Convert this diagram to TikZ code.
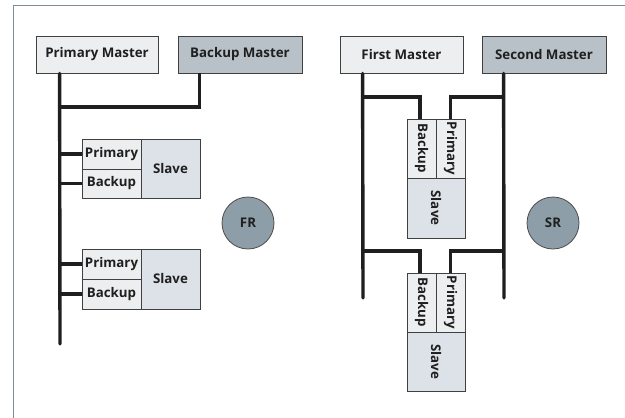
\documentclass[tikz,border=0pt]{standalone}
\usepackage{fontspec}
\setmainfont{Open Sans}
\begin{document}
\begin{tikzpicture}[x=1pt,y=-1pt,
  txt/.style={font=\bfseries\fontsize{13.3}{15}\selectfont, text=black!88},
  box/.style={draw=black!75, line width=0.8pt, inner sep=0pt, txt},
  light/.style={box, fill=lightc},
  dark/.style={box, fill=darkc},
  slave/.style={box, fill=slavec},
  bus/.style={line width=3.4pt, draw=black!88, line cap=round},
  stub/.style={line width=3.4pt, draw=black!88},
  circ/.style={circle, draw=black!70, line width=0.8pt, fill=circc, minimum size=52pt, inner sep=0pt, txt},
  vert/.style={rotate=-90}]
\definecolor{lightc}{HTML}{ECEEF0}
\definecolor{darkc}{HTML}{B7C1C7}
\definecolor{slavec}{HTML}{DCE2E7}
\definecolor{circc}{HTML}{8D9EA8}
\definecolor{framec}{HTML}{7D8E99}
\useasboundingbox (0,0) rectangle (625,418);
\draw[framec, line width=1pt] (13,418) -- (13,5) -- (625,5);

% ---- left (FR)
\node[light, minimum width=122pt, minimum height=37pt] (PM) at (97,54.5) {Primary Master};
\node[dark, minimum width=124pt, minimum height=37pt] (BM) at (240,54.5) {Backup Master};

\node[light, minimum width=59pt, minimum height=30pt] (L1p) at (111.5,154) {Primary};
\node[light, minimum width=59pt, minimum height=29pt] (L1b) at (111.5,183.5) {Backup};
\node[slave, minimum width=59pt, minimum height=59pt] (L1s) at (170.5,168.5) {Slave};

\node[light, minimum width=59pt, minimum height=30pt] (L2p) at (111.5,264) {Primary};
\node[light, minimum width=59pt, minimum height=30pt] (L2b) at (111.5,294) {Backup};
\node[slave, minimum width=59pt, minimum height=60pt] (L2s) at (170.5,279) {Slave};

\node[circ] (FR) at (248,223) {FR};

\coordinate (tL) at (60,344);
\coordinate (jL) at (60,107);
\draw[bus] ([xshift=24pt]PM.south west) -- (tL);
\draw[stub] ([xshift=22pt]BM.south west) |- (jL);
\draw[stub] (L1p.west) -- (L1p.west -| tL);
\draw[stub] (L1b.west) -- (L1b.west -| tL);
\draw[stub] (L2p.west) -- (L2p.west -| tL);
\draw[stub] (L2b.west) -- (L2b.west -| tL);

% ---- right (SR)
\node[light, minimum width=123pt, minimum height=37pt] (FM) at (401.5,54.5) {First Master};
\node[dark, minimum width=124pt, minimum height=37pt] (SM) at (544,54.5) {Second Master};

\node[light, minimum width=59pt, minimum height=29pt, vert] (R1b) at (421.5,148.5) {Backup};
\node[light, minimum width=59pt, minimum height=29pt, vert] (R1p) at (450.5,148.5) {Primary};
\node[slave, minimum width=60pt, minimum height=58pt, vert] (R1s) at (436,208) {Slave};

\node[light, minimum width=59pt, minimum height=29pt, vert] (R2b) at (421.5,302.5) {Backup};
\node[light, minimum width=59pt, minimum height=29pt, vert] (R2p) at (450.5,302.5) {Primary};
\node[slave, minimum width=59pt, minimum height=58pt, vert] (R2s) at (436,361.5) {Slave};

\node[circ] (SR) at (553,223) {SR};

\coordinate (tR1) at (363,298);
\coordinate (tR2) at (504,298);
\coordinate (u1) at (363,97);
\coordinate (u2) at (504,97);
\coordinate (d1) at (363,251);
\coordinate (d2) at (504,251);
\draw[bus] ([xshift=23pt]FM.south west) -- (tR1);
\draw[bus] ([xshift=22pt]SM.south west) -- (tR2);
\draw[stub] ([xshift=-1.5pt]R1b.west) |- (u1);
\draw[stub] (R1p.west) |- (u2);
\draw[stub] ([xshift=-1.5pt]R2b.west) |- (d1);
\draw[stub] (R2p.west) |- (d2);
\end{tikzpicture}
\end{document}
